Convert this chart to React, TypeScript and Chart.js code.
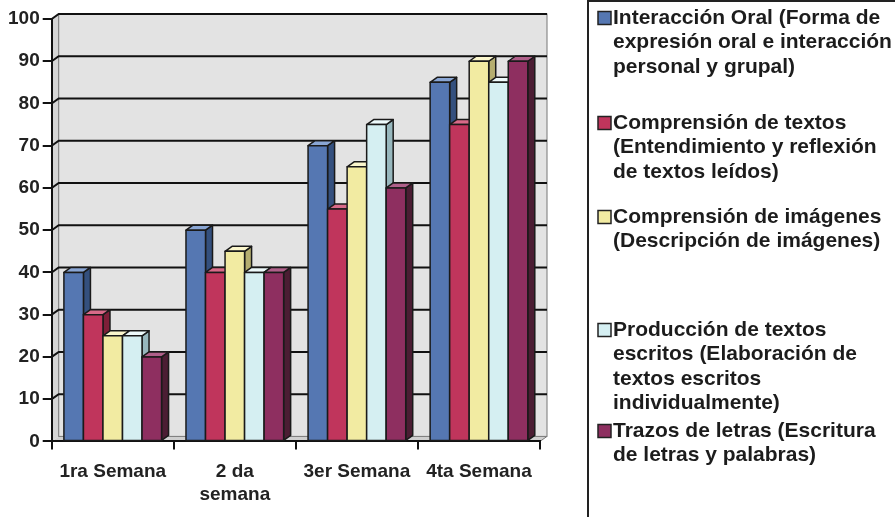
import React, { useEffect, useRef } from "react";
import { Chart, registerables } from "chart.js";

Chart.register(...registerables);

// ---- data ----
const categories = [["1ra Semana"], ["2 da", "semana"], ["3er Semana"], ["4ta Semana"]];
const interaccionOral = [40, 50, 70, 85];
const comprensionTextos = [30, 40, 55, 75];
const comprensionImagenes = [25, 45, 65, 90];
const produccionTextos = [25, 40, 75, 85];
const trazosLetras = [20, 40, 60, 90];
const yTickValues = [0, 10, 20, 30, 40, 50, 60, 70, 80, 90, 100];
const seriesLabels = [
  ["Interacción Oral (Forma de", "expresión oral e interacción", "personal y grupal)"],
  ["Comprensión de textos", "(Entendimiento y reflexión", "de textos leídos)"],
  ["Comprensión de imágenes", "(Descripción de imágenes)"],
  ["Producción de textos", "escritos (Elaboración de", "textos escritos", "individualmente)"],
  ["Trazos de letras (Escritura", "de letras y palabras)"],
];

// ---- styles ----
const frontColors = ["#5577b2", "#c0355c", "#f2eba2", "#d5eff2", "#8e2f60"];
const sideColors = ["#34507e", "#7d1f38", "#b5ae70", "#97b7bd", "#4b1d33"];
const topColors = ["#8aa6d4", "#d86a88", "#faf6cc", "#eefafb", "#b0608a"];
const legendEntryTop = [18, 123, 217, 330, 431];
const DX = 7;
const DY = 5;
const FONT = "'Liberation Sans', Arial, sans-serif";

const wallPlugin = {
  id: "wall3d",
  beforeDraw(chart: any) {
    const { ctx, chartArea } = chart;
    const y = chart.scales.y;
    const { left, right, top, bottom } = chartArea;
    ctx.save();
    ctx.fillStyle = "#e3e3e3";
    ctx.fillRect(left + DX, top - DY, right - left, bottom - top);
    ctx.fillStyle = "#d6d6d6";
    ctx.beginPath();
    ctx.moveTo(left, top);
    ctx.lineTo(left + DX, top - DY);
    ctx.lineTo(left + DX, bottom - DY);
    ctx.lineTo(left, bottom);
    ctx.closePath();
    ctx.fill();
    ctx.fillStyle = "#cfcfcf";
    ctx.beginPath();
    ctx.moveTo(left, bottom);
    ctx.lineTo(left + DX, bottom - DY);
    ctx.lineTo(right + DX, bottom - DY);
    ctx.lineTo(right, bottom);
    ctx.closePath();
    ctx.fill();
    ctx.strokeStyle = "#777";
    ctx.lineWidth = 1;
    ctx.strokeRect(left + DX, top - DY, right - left, bottom - top);
    ctx.beginPath();
    ctx.moveTo(right, bottom);
    ctx.lineTo(right + DX, bottom - DY);
    ctx.stroke();
    ctx.strokeStyle = "#111";
    ctx.lineWidth = 2;
    yTickValues.forEach((v) => {
      if (v === 0) return;
      const py = y.getPixelForValue(v);
      ctx.beginPath();
      ctx.moveTo(left, py);
      ctx.lineTo(left + DX, py - DY);
      ctx.lineTo(right + DX, py - DY);
      ctx.stroke();
    });
    ctx.restore();
  },
};

const bars3dPlugin = {
  id: "bars3d",
  afterDatasetsDraw(chart: any) {
    const { ctx } = chart;
    const metas = chart.data.datasets.map((_: any, i: number) => chart.getDatasetMeta(i));
    const n = chart.data.labels.length;
    ctx.save();
    ctx.lineJoin = "round";
    ctx.strokeStyle = "#1a1a1a";
    ctx.lineWidth = 1.5;
    for (let c = 0; c < n; c++) {
      metas.forEach((meta: any, d: number) => {
        const el = meta.data[c];
        if (!el) return;
        const { x, y, base, width } = el.getProps(["x", "y", "base", "width"], true);
        const l = x - width / 2;
        const r = x + width / 2;
        ctx.fillStyle = sideColors[d];
        ctx.beginPath();
        ctx.moveTo(r, y);
        ctx.lineTo(r + DX, y - DY);
        ctx.lineTo(r + DX, base - DY);
        ctx.lineTo(r, base);
        ctx.closePath();
        ctx.fill();
        ctx.stroke();
        ctx.fillStyle = topColors[d];
        ctx.beginPath();
        ctx.moveTo(l, y);
        ctx.lineTo(l + DX, y - DY);
        ctx.lineTo(r + DX, y - DY);
        ctx.lineTo(r, y);
        ctx.closePath();
        ctx.fill();
        ctx.stroke();
        ctx.fillStyle = frontColors[d];
        ctx.fillRect(l, y, width, base - y);
        ctx.strokeRect(l, y, width, base - y);
      });
    }
    ctx.restore();
  },
};

const legendPlugin = {
  id: "sideLegend",
  afterDraw(chart: any) {
    const { ctx, width, height } = chart;
    const boxLeft = 588;
    ctx.save();
    ctx.strokeStyle = "#222";
    ctx.lineWidth = 2;
    ctx.beginPath();
    ctx.moveTo(boxLeft, height);
    ctx.lineTo(boxLeft, 1);
    ctx.lineTo(width, 1);
    ctx.stroke();
    ctx.font = `bold 21px ${FONT}`;
    ctx.textBaseline = "middle";
    ctx.textAlign = "left";
    chart.data.datasets.forEach((ds: any, i: number) => {
      const lines: string[] = ds.legendLines;
      const y0 = legendEntryTop[i];
      ctx.fillStyle = frontColors[i];
      ctx.fillRect(598, y0 - 6.5, 13, 13);
      ctx.lineWidth = 1.5;
      ctx.strokeStyle = "#222";
      ctx.strokeRect(598, y0 - 6.5, 13, 13);
      ctx.fillStyle = "#1c1c1c";
      lines.forEach((t, k) => ctx.fillText(t, 613, y0 + k * 24.5));
    });
    ctx.restore();
  },
};

export default function App() {
  const ref = useRef<HTMLCanvasElement | null>(null);
  useEffect(() => {
    document.body.style.margin = "0";
    const series = [interaccionOral, comprensionTextos, comprensionImagenes, produccionTextos, trazosLetras];
    const chart = new Chart(ref.current as HTMLCanvasElement, {
      type: "bar",
      data: {
        labels: categories,
        datasets: series.map((vals, i) => ({
          label: seriesLabels[i].join(" "),
          legendLines: seriesLabels[i],
          data: vals,
          backgroundColor: frontColors[i],
          borderWidth: 0,
          categoryPercentage: 0.8,
          barPercentage: 1,
        })) as any,
      },
      options: {
        animation: false,
        responsive: true,
        maintainAspectRatio: false,
        layout: { padding: { left: 5, top: 19, right: 355, bottom: 0 } },
        plugins: { legend: { display: false }, tooltip: { enabled: false } },
        scales: {
          y: {
            min: 0,
            max: 100,
            ticks: { stepSize: 10, color: "#222", padding: 3, font: { family: FONT, size: 19, weight: "bold" } },
            grid: { drawOnChartArea: false, drawTicks: true, tickLength: 9, color: "#111", lineWidth: 2 },
            border: { display: true, color: "#111", width: 2 },
          },
          x: {
            ticks: { color: "#222", padding: 11, maxRotation: 0, autoSkip: false, font: { family: FONT, size: 19, weight: "bold" } },
            grid: { offset: true, drawOnChartArea: false, drawTicks: true, tickLength: 8, color: "#111", lineWidth: 2 },
            border: { display: true, color: "#111", width: 2 },
          },
        },
      },
      plugins: [wallPlugin, bars3dPlugin, legendPlugin],
    });
    return () => chart.destroy();
  }, []);
  return (
    <div style={{ position: "absolute", left: 0, top: 0, width: 895, height: 517, background: "#fff" }}>
      <canvas ref={ref} />
    </div>
  );
}
